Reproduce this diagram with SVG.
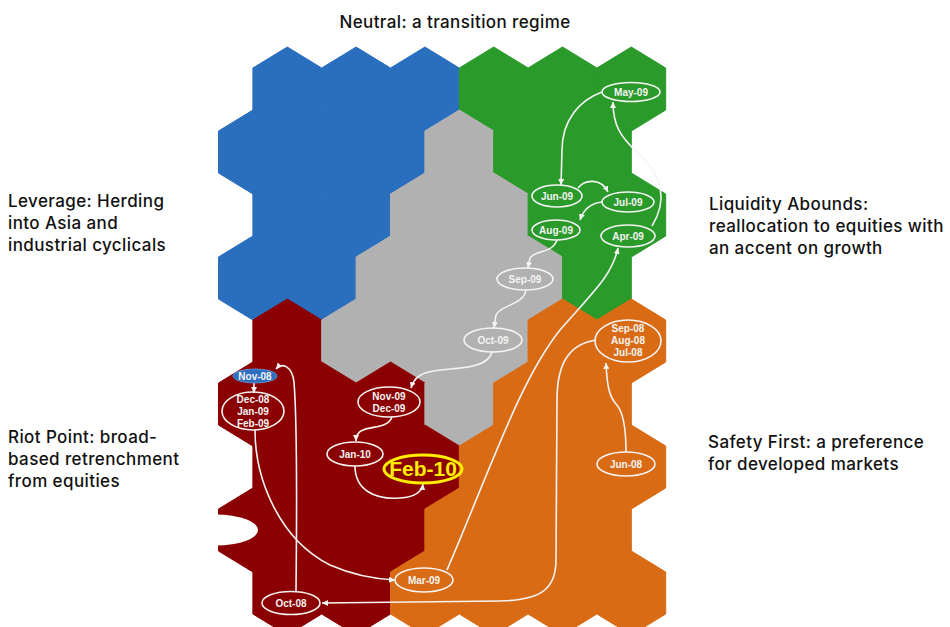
<svg xmlns="http://www.w3.org/2000/svg" xmlns:xlink="http://www.w3.org/1999/xlink" width="950" height="627" viewBox="0 0 950 627">
<defs>
<polygon id="hex" points="0,-42 34.4,-21 34.4,21 0,42 -34.4,21 -34.4,-21"/>
<marker id="arr" markerUnits="userSpaceOnUse" markerWidth="7" markerHeight="7" refX="6" refY="3" orient="auto">
<path d="M0,0 L6,3 L0,6 z" fill="#f4f4f4"/>
</marker>
<style>
.b{fill:#2a6ebe;stroke:#2a6ebe;stroke-width:1}
.g{fill:#2a9a2a;stroke:#2a9a2a;stroke-width:1}
.s{fill:#b1b1b1;stroke:#b1b1b1;stroke-width:1}
.r{fill:#8b0000;stroke:#8b0000;stroke-width:1}
.o{fill:#d86b14;stroke:#d86b14;stroke-width:1}
.lbl{font-family:Inter,"Liberation Sans",Arial,sans-serif;font-size:17px;letter-spacing:0.4px;font-weight:500;fill:#111}
.nd ellipse{fill:none;stroke:#f4f4f4;stroke-width:1.6}
.nd text{font-family:"Liberation Sans",Arial,sans-serif;font-size:10px;font-weight:bold;fill:#f4f4f4;text-anchor:middle}
.cn path{fill:none;stroke:#f4f4f4;stroke-width:1.6;marker-end:url(#arr)}
</style>
</defs>
<rect width="950" height="627" fill="#ffffff"/>
<g id="regions">
<!-- row 0 -->
<use href="#hex" class="b" x="287.3" y="89"/><use href="#hex" class="b" x="356.1" y="89"/><use href="#hex" class="b" x="424.9" y="89"/><use href="#hex" class="g" x="493.7" y="89"/><use href="#hex" class="g" x="562.5" y="89"/><use href="#hex" class="g" x="631.3" y="89"/>
<!-- row 1 -->
<use href="#hex" class="b" x="252.9" y="152"/><use href="#hex" class="b" x="321.7" y="152"/><use href="#hex" class="b" x="390.5" y="152"/><use href="#hex" class="s" x="459.3" y="152"/><use href="#hex" class="g" x="528.1" y="152"/><use href="#hex" class="g" x="596.9" y="152"/>
<!-- row 2 -->
<use href="#hex" class="b" x="287.3" y="215"/><use href="#hex" class="b" x="356.1" y="215"/><use href="#hex" class="s" x="424.9" y="215"/><use href="#hex" class="s" x="493.7" y="215"/><use href="#hex" class="g" x="562.5" y="215"/><use href="#hex" class="g" x="631.3" y="215"/>
<!-- row 3 -->
<use href="#hex" class="b" x="252.9" y="278"/><use href="#hex" class="b" x="321.7" y="278"/><use href="#hex" class="s" x="390.5" y="278"/><use href="#hex" class="s" x="459.3" y="278"/><use href="#hex" class="s" x="528.1" y="278"/><use href="#hex" class="g" x="596.9" y="278"/>
<!-- row 4 -->
<use href="#hex" class="r" x="287.3" y="341"/><use href="#hex" class="s" x="356.1" y="341"/><use href="#hex" class="s" x="424.9" y="341"/><use href="#hex" class="s" x="493.7" y="341"/><use href="#hex" class="o" x="562.5" y="341"/><use href="#hex" class="o" x="631.3" y="341"/>
<!-- row 5 -->
<use href="#hex" class="r" x="252.9" y="404"/><use href="#hex" class="r" x="321.7" y="404"/><use href="#hex" class="r" x="390.5" y="404"/><use href="#hex" class="s" x="459.3" y="404"/><use href="#hex" class="o" x="528.1" y="404"/><use href="#hex" class="o" x="596.9" y="404"/>
<!-- row 6 -->
<use href="#hex" class="r" x="287.3" y="467"/><use href="#hex" class="r" x="356.1" y="467"/><use href="#hex" class="r" x="424.9" y="467"/><use href="#hex" class="o" x="493.7" y="467"/><use href="#hex" class="o" x="562.5" y="467"/><use href="#hex" class="o" x="631.3" y="467"/>
<!-- row 7 -->
<use href="#hex" class="r" x="252.9" y="530"/><use href="#hex" class="r" x="321.7" y="530"/><use href="#hex" class="r" x="390.5" y="530"/><use href="#hex" class="o" x="459.3" y="530"/><use href="#hex" class="o" x="528.1" y="530"/><use href="#hex" class="o" x="596.9" y="530"/>
<!-- row 8 -->
<use href="#hex" class="r" x="287.3" y="593"/><use href="#hex" class="r" x="356.1" y="593"/><use href="#hex" class="o" x="424.9" y="593"/><use href="#hex" class="o" x="493.7" y="593"/><use href="#hex" class="o" x="562.5" y="593"/><use href="#hex" class="o" x="631.3" y="593"/>
<ellipse cx="216" cy="530" rx="42" ry="15.5" fill="#ffffff"/>
</g>
<g id="labels" class="lbl">
<text x="455" y="28" text-anchor="middle">Neutral: a transition regime</text>
<text x="8" y="207">Leverage: Herding</text>
<text x="8" y="229">into Asia and</text>
<text x="8" y="251">industrial cyclicals</text>
<text x="8" y="443">Riot Point: broad-</text>
<text x="8" y="465">based retrenchment</text>
<text x="8" y="487">from equities</text>
<text x="709" y="210">Liquidity Abounds:</text>
<text x="709" y="232">reallocation to equities with</text>
<text x="709" y="254">an accent on growth</text>
<text x="708" y="448">Safety First: a preference</text>
<text x="708" y="470">for developed markets</text>
</g>
<g id="connectors" class="cn">
<path d="M626,452 C626,430 624,412 616,404 C609,396 607,385 606,363"/>
<path d="M596,340 C570,344 557,362 557,400 L556,560 C556,590 540,600 500,601 L322,603"/>
<path d="M296,592 C297,500 297,420 294,382 C292,366 282,362 276,369"/>
<path d="M254,383 L254,393"/>
<path d="M255,430 C255,480 280,540 330,565 C355,576 375,579 395,580"/>
<path d="M447,570 C490,470 520,380 560,330 C595,290 612,275 618,248"/>
<path d="M652,226 C668,200 662,175 640,155 C620,137 613,125 613,102"/>
<path d="M602,92 C580,100 562,120 562,150 L561,185"/>
<path d="M578,188 C585,179 601,178 608,192"/>
<path d="M602,202 C592,203 584,208 580,220"/>
<path d="M557,240 C552,254 535,250 530,258 L528,268"/>
<path d="M526,290 C524,305 500,305 496,315 L494,328"/>
<path d="M492,352 C488,368 460,368 440,370 C420,372 414,378 411,388"/>
<path d="M392,417 C388,428 372,426 363,430 C358,432 356,436 356,441"/>
<path d="M355,466 C355,490 375,500 400,498 C415,497 422,492 423,484"/>
</g>
<g id="n-jun08" class="nd"><ellipse cx="626" cy="464" rx="29" ry="12"/><text x="626" y="468">Jun-08</text></g>
<g id="n-jul-sep08" class="nd"><ellipse cx="628" cy="341" rx="33" ry="21"/><text x="628" y="332">Sep-08</text><text x="628" y="344">Aug-08</text><text x="628" y="356">Jul-08</text></g>
<g id="n-oct08" class="nd"><ellipse cx="291" cy="603" rx="29" ry="11.5"/><text x="291" y="607">Oct-08</text></g>
<g id="n-nov08" class="nd"><ellipse cx="255" cy="376" rx="22" ry="7" style="fill:#2f6fc0;stroke:#5a8fd0;stroke-width:1"/><text x="255" y="380">Nov-08</text></g>
<g id="n-dec08-feb09" class="nd"><ellipse cx="253" cy="411" rx="31" ry="19"/><text x="253" y="403">Dec-08</text><text x="253" y="415">Jan-09</text><text x="253" y="427">Feb-09</text></g>
<g id="n-mar09" class="nd"><ellipse cx="424" cy="580" rx="29" ry="12"/><text x="424" y="584">Mar-09</text></g>
<g id="n-apr09" class="nd"><ellipse cx="628" cy="236" rx="27" ry="11"/><text x="628" y="240">Apr-09</text></g>
<g id="n-may09" class="nd"><ellipse cx="631" cy="92" rx="29" ry="9.5"/><text x="631" y="96">May-09</text></g>
<g id="n-jun09" class="nd"><ellipse cx="557" cy="196" rx="25" ry="11"/><text x="557" y="200">Jun-09</text></g>
<g id="n-jul09" class="nd"><ellipse cx="628" cy="202" rx="26" ry="10"/><text x="628" y="206">Jul-09</text></g>
<g id="n-aug09" class="nd"><ellipse cx="556" cy="230" rx="24" ry="10"/><text x="556" y="234">Aug-09</text></g>
<g id="n-sep09" class="nd"><ellipse cx="525" cy="279" rx="28" ry="11"/><text x="525" y="283">Sep-09</text></g>
<g id="n-oct09" class="nd"><ellipse cx="493" cy="340" rx="29" ry="12"/><text x="493" y="344">Oct-09</text></g>
<g id="n-nov-dec09" class="nd"><ellipse cx="389" cy="402" rx="31" ry="15"/><text x="389" y="400">Nov-09</text><text x="389" y="412">Dec-09</text></g>
<g id="n-jan10" class="nd"><ellipse cx="355" cy="454" rx="28" ry="12"/><text x="355" y="458">Jan-10</text></g>
<g id="n-feb10" class="nd"><ellipse cx="423" cy="469" rx="39" ry="14" style="stroke:#ffee00;stroke-width:3"/><text x="423" y="476" style="font-size:21px;fill:#ffee00">Feb-10</text></g>
</svg>
